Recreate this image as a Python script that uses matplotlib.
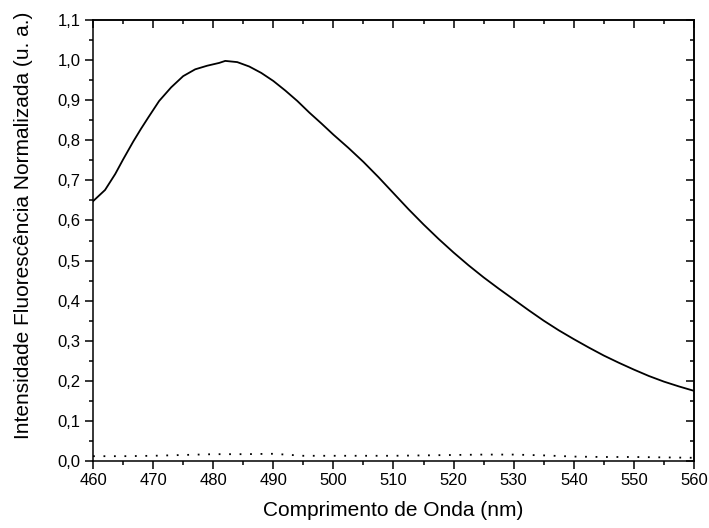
import matplotlib
matplotlib.use("Agg")
import matplotlib.pyplot as plt
from matplotlib.ticker import MultipleLocator, FuncFormatter

plt.rcParams['font.family'] = ['Liberation Sans', 'DejaVu Sans']

# espectro de fluorescencia normalizado (linha continua)
comprimento = [460, 462, 463.7, 465, 466.7, 468, 469.2, 471, 473, 475, 477,
               479, 481, 482, 484, 486, 488, 490, 492, 494, 496, 498, 500, 502.5,
               505, 507.5, 510, 512.5, 515, 517.5, 520, 522.5, 525, 527.5, 530,
               532.5, 535, 537.5, 540, 542.5, 545, 547.5, 550, 552.5, 555,
               557.5, 560]
intensidade = [0.648, 0.676, 0.716, 0.752, 0.797, 0.829, 0.857, 0.898, 0.932,
               0.960, 0.977, 0.986, 0.993, 0.998, 0.995, 0.984, 0.968, 0.948,
               0.924, 0.898, 0.869, 0.842, 0.814, 0.781, 0.746, 0.708, 0.668,
               0.628, 0.590, 0.554, 0.520, 0.488, 0.458, 0.430, 0.403, 0.376,
               0.350, 0.326, 0.304, 0.283, 0.263, 0.245, 0.228, 0.212, 0.198,
               0.186, 0.175]

# linha pontilhada (branco)
comprimento_b = [460, 465, 470, 475, 480, 485, 490, 495, 500, 505, 510, 515,
                 520, 525, 530, 535, 540, 545, 550, 555, 560]
intensidade_b = [0.012, 0.012, 0.013, 0.015, 0.017, 0.017, 0.018, 0.013, 0.013,
                 0.013, 0.013, 0.014, 0.015, 0.016, 0.016, 0.014, 0.011, 0.010,
                 0.010, 0.009, 0.008]

fig = plt.figure(figsize=(7.09, 5.28), dpi=100)
ax = fig.add_axes([0.1312, 0.1269, 0.8476, 0.8352])

ax.plot(comprimento, intensidade, color='black', lw=1.3)
ax.plot(comprimento_b, intensidade_b, color='black', lw=1.3,
        linestyle=(0, (1, 4.8)))

ax.set_xlim(460, 560)
ax.set_ylim(0.0, 1.1)

virgula = FuncFormatter(lambda v, p: f"{v:.1f}".replace('.', ','))
ax.xaxis.set_major_locator(MultipleLocator(10))
ax.xaxis.set_minor_locator(MultipleLocator(5))
ax.yaxis.set_major_locator(MultipleLocator(0.1))
ax.yaxis.set_minor_locator(MultipleLocator(0.05))
ax.yaxis.set_major_formatter(virgula)

for s in ax.spines.values():
    s.set_linewidth(1.1)

ax.tick_params(which='major', direction='out', length=5.8, width=1.1,
               labelsize=12, pad=3)
ax.tick_params(which='minor', direction='out', length=2.9, width=1.1)

# eixos de cima e da direita com ticks para dentro
top = ax.secondary_xaxis('top')
top.xaxis.set_major_locator(MultipleLocator(10))
top.xaxis.set_minor_locator(MultipleLocator(5))
top.tick_params(which='major', direction='in', length=5.8, width=1.1, labeltop=False)
top.tick_params(which='minor', direction='in', length=2.9, width=1.1)
right = ax.secondary_yaxis('right')
right.yaxis.set_major_locator(MultipleLocator(0.1))
right.yaxis.set_minor_locator(MultipleLocator(0.05))
right.tick_params(which='major', direction='in', length=5.8, width=1.1, labelright=False)
right.tick_params(which='minor', direction='in', length=2.9, width=1.1)
top.spines['top'].set_linewidth(1.1)
right.spines['right'].set_linewidth(1.1)

ax.set_xlabel('Comprimento de Onda (nm)', fontsize=15, labelpad=9)
ax.set_ylabel('Intensidade Fluorescência Normalizada (u. a.)', fontsize=15)
ax.yaxis.set_label_coords(-0.10, 0.535)

fig.savefig('out.png', dpi=100)
